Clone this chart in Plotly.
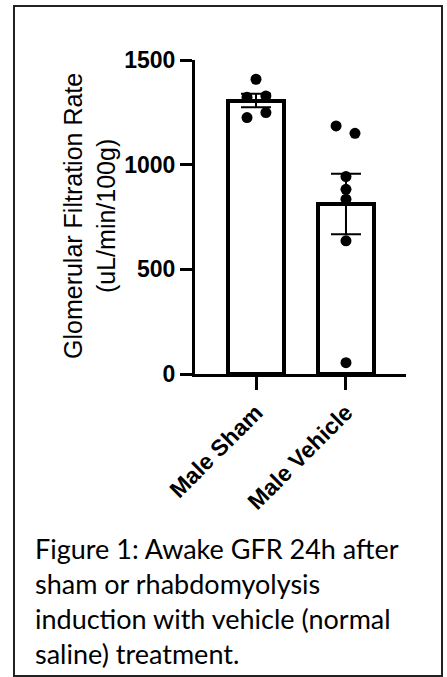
import plotly.graph_objects as go
import numpy as np

# ---- data ----
categories = ["Male Sham", "Male Vehicle"]
sham_values = [1408, 1322, 1328, 1225, 1249]
sham_jitter = [0.0, -0.10, 0.11, -0.10, 0.11]
vehicle_values = [1185, 1150, 943, 882, 835, 636, 54]
vehicle_jitter = [-0.11, 0.10, 0.0, 0.0, 0.0, 0.0, 0.0]
y_ticks = [0, 500, 1000, 1500]
y_title = "Glomerular Filtration Rate<br>(uL/min/100g)"
caption_lines = [
    "Figure 1: Awake GFR 24h after",
    "sham or rhabdomyolysis",
    "induction with vehicle (normal",
    "saline) treatment.",
]

groups = [sham_values, vehicle_values]
jitters = [sham_jitter, vehicle_jitter]
means = [float(np.mean(g)) for g in groups]
sems = [float(np.std(g, ddof=1) / np.sqrt(len(g))) for g in groups]

W, H = 447, 677
L, R, T, B = 195, 41, 60, 303
pw, ph = W - L - R, H - T - B


def px(x):
    return (x - L) / pw


def py(y):
    return (H - B - y) / ph


fig = go.Figure()
fig.add_trace(go.Bar(
    x=[0, 1], y=means, width=0.63,
    marker=dict(color="white", line=dict(color="black", width=4)),
    error_y=dict(type="data", array=sems, visible=True, color="black",
                 thickness=2, width=15),
    showlegend=False, hoverinfo="skip",
))
for i, (vals, jit) in enumerate(zip(groups, jitters)):
    fig.add_trace(go.Scatter(
        x=[i + j for j in jit], y=vals, mode="markers",
        marker=dict(color="black", size=11),
        showlegend=False, cliponaxis=False,
    ))

tickfont = dict(family="Liberation Sans, Arial", size=23, color="black", weight="bold")
fig.update_layout(
    width=W, height=H,
    margin=dict(l=L, r=R, t=T, b=B),
    paper_bgcolor="white", plot_bgcolor="white",
    xaxis=dict(
        range=[-0.678, 1.667], tickvals=[0, 1], ticktext=categories,
        tickangle=-45, ticks="outside", ticklen=13, tickwidth=3, tickcolor="black",
        showline=True, linewidth=3, linecolor="black", showgrid=False, zeroline=False,
        tickfont=tickfont,
    ),
    yaxis=dict(
        range=[0, 1500], tickvals=y_ticks, ticks="outside", ticklen=12, tickwidth=3,
        tickcolor="black", showline=True, linewidth=3, linecolor="black",
        showgrid=False, zeroline=False, tickfont=tickfont,
    ),
    bargap=0,
)

fig.add_annotation(
    text=y_title, xref="paper", yref="paper", x=px(89), y=py(216),
    xanchor="center", yanchor="middle", textangle=-90, showarrow=False,
    font=dict(family="Liberation Sans, Arial", size=25, color="black"),
)

baselines = [560, 595, 630, 665]
for line, b in zip(caption_lines, baselines):
    fig.add_annotation(
        text=line, xref="paper", yref="paper", x=px(33), y=py(b + 7),
        xanchor="left", yanchor="bottom", showarrow=False,
        font=dict(family="Lato", size=27, color="black"),
    )

fig.add_shape(type="rect", xref="paper", yref="paper",
              x0=px(14), x1=px(442), y0=py(676), y1=py(6),
              line=dict(color="#222222", width=2))

fig.write_html("out.html")
